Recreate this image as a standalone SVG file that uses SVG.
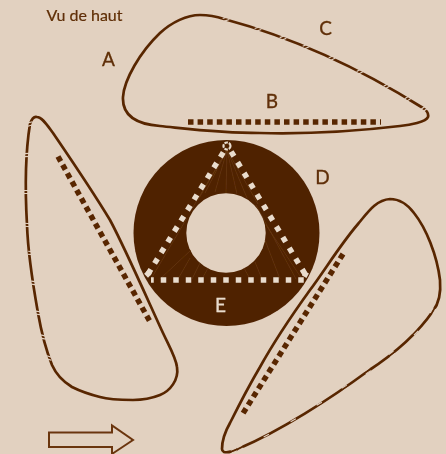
<svg xmlns="http://www.w3.org/2000/svg" width="446" height="454" viewBox="0 0 446 454">
<style>
.blade{fill:none;stroke:#582600;stroke-width:2.7;stroke-linecap:round;stroke-linejoin:round}
.gap{stroke:#e2d1c0;stroke-width:1.100;fill:none}
.dots{stroke:#582600;stroke-width:5.500;stroke-dasharray:5.500 4.100;fill:none}
.tri{stroke:#e9dccd;stroke-width:5.500;stroke-dasharray:5.500 7;fill:none}
.str{stroke:#6c3c14;stroke-width:.6;fill:none}
.lbl{font-family:"Lato","Open Sans",sans-serif;font-size:19px;fill:#5f2e08;stroke:#5f2e08;stroke-width:.3;text-anchor:middle}
</style>
<defs>
<filter id="soft" x="-5%" y="-5%" width="110%" height="110%"><feGaussianBlur stdDeviation="0.35"/></filter>
<g id="g"><path class="gap" d="M-1.500 -3V3M1.500 -3V3"/></g>
</defs>
<rect width="446" height="454" fill="#e2d1c0"/>
<g filter="url(#soft)">
<g id="blade-top">
<path class="blade" d="M428 117C426 122 410 125 400 126C350 132 300 134 260 133C220 133 190 129 160 126C135 124 122 115 123 97C124 80 140 52 160 33C172 22 187 15 200 15C212 15 218 17 224 19C280 34 350 62 423 108C426 110 429 113 428 117Z"/>
<use href="#g" transform="translate(226 19) rotate(72)"/><use href="#g" transform="translate(258 29) rotate(72)"/><use href="#g" transform="translate(283 38) rotate(70)"/><use href="#g" transform="translate(306 46.500) rotate(66)"/><use href="#g" transform="translate(332 58) rotate(65)"/><use href="#g" transform="translate(360 71.500) rotate(62)"/><use href="#g" transform="translate(387 86) rotate(60)"/><use href="#g" transform="translate(408 98.500) rotate(58)"/><use href="#g" transform="translate(424 109) rotate(55)"/>
<path class="dots" d="M188 122H381"/>
</g>
<g id="blade-left">
<path class="blade" d="M30 124C32 118 34 116 37 117C42 117 47 125 53 133C70 158 90 187 110 220C125 248 150 305 163 333C170 348 176 358 177 367C179 380 170 391 160 395C150 399 142 400 133 400C120 400 110 400 100 397C88 394 80 391 72 387C62 381 56 374 52 365C46 350 41 330 38 313C33 285 28 255 27 225C25 190 25 155 30 124Z"/>
<use href="#g" transform="translate(30 124) rotate(75)"/><use href="#g" transform="translate(27 155) rotate(88)"/><use href="#g" transform="translate(26 192) rotate(90)"/><use href="#g" transform="translate(27.500 225) rotate(94)"/><use href="#g" transform="translate(31 253) rotate(96)"/><use href="#g" transform="translate(34 283) rotate(97)"/><use href="#g" transform="translate(38.500 313) rotate(98)"/><use href="#g" transform="translate(43 337) rotate(102)"/><use href="#g" transform="translate(49 358) rotate(106)"/>
<path class="dots" d="M58 156.500L151 323.500"/>
</g>
<g id="blade-right">
<path class="blade" d="M222 449C222 440 226 430 230 423C240 403 250 384 260 367C275 340 292 315 310 290C325 270 340 245 358 224C368 212 376 200 390 199C400 199 408 205 414 213C426 228 437 255 440 280C441 292 440 302 433 311C420 330 400 350 368 371C330 399 280 431 240 448C234 451 228 453 224 452C222 451 222 450 222 449Z"/>
<use href="#g" transform="translate(433 311) rotate(28)"/><use href="#g" transform="translate(415 332) rotate(45)"/><use href="#g" transform="translate(392 354) rotate(52)"/><use href="#g" transform="translate(367.500 371) rotate(57)"/><use href="#g" transform="translate(345 388) rotate(58)"/><use href="#g" transform="translate(320 405) rotate(60)"/><use href="#g" transform="translate(294 421.500) rotate(60)"/><use href="#g" transform="translate(267 437) rotate(62)"/><use href="#g" transform="translate(240 448) rotate(65)"/><use href="#g" transform="translate(234 450.500) rotate(68)"/>
<path class="dots" d="M343 254L241 416.500"/>
</g>
<g id="disc">
<circle cx="226.500" cy="233" r="93" fill="#4f2200"/>
<circle cx="226" cy="233" r="39.700" fill="#e2d1c0"/>
<path class="str" d="M227 150L205 193M227 150L215 192M227 150L226 193M227 150L237 194M227 150L247 198M227 150L198 200M227 150L258 204M227 150L190 212M151 279L187 218M160 279L191 250M178 279L190 258M192 279L200 263M202 279L208 268M250 279L244 268M262 279L255 262M280 279L265 240M296 279L256 205M302 279L266 225"/>
<path class="tri" d="M148 274L226 148"/>
<path class="tri" d="M305 274L229 148"/>
<path class="tri" d="M151 280H306" stroke-dashoffset="2.750"/>
<circle cx="227" cy="146" r="3.500" fill="none" stroke="#e9dccd" stroke-width="2.200" stroke-dasharray="3.500 1"/>
<rect x="145.500" y="271" width="5.500" height="5.500" fill="#e9dccd" transform="rotate(45 148 273.500)"/>
<rect x="303" y="272" width="5" height="5" fill="#e9dccd" transform="rotate(30 305.500 274.500)"/>
</g>
<g id="arrow">
<path d="M49 432.500H112V425.500L133 440L112 454V447H49Z" fill="#e2d1c0" stroke="#6b3510" stroke-width="2"/>
</g>
<g id="labels">
<text x="84.500" y="21" font-family="Lato,'Open Sans',sans-serif" font-size="16" fill="#5f2e08" stroke="#5f2e08" stroke-width=".2" text-anchor="middle">Vu de haut</text>
<text class="lbl" x="108.500" y="66">A</text>
<text class="lbl" x="325.500" y="35">C</text>
<text class="lbl" x="272" y="108">B</text>
<text class="lbl" x="322.500" y="184">D</text>
<text class="lbl" x="220.500" y="312" style="fill:#e9dccd;stroke:#e9dccd">E</text>
</g>
</g>
</svg>
